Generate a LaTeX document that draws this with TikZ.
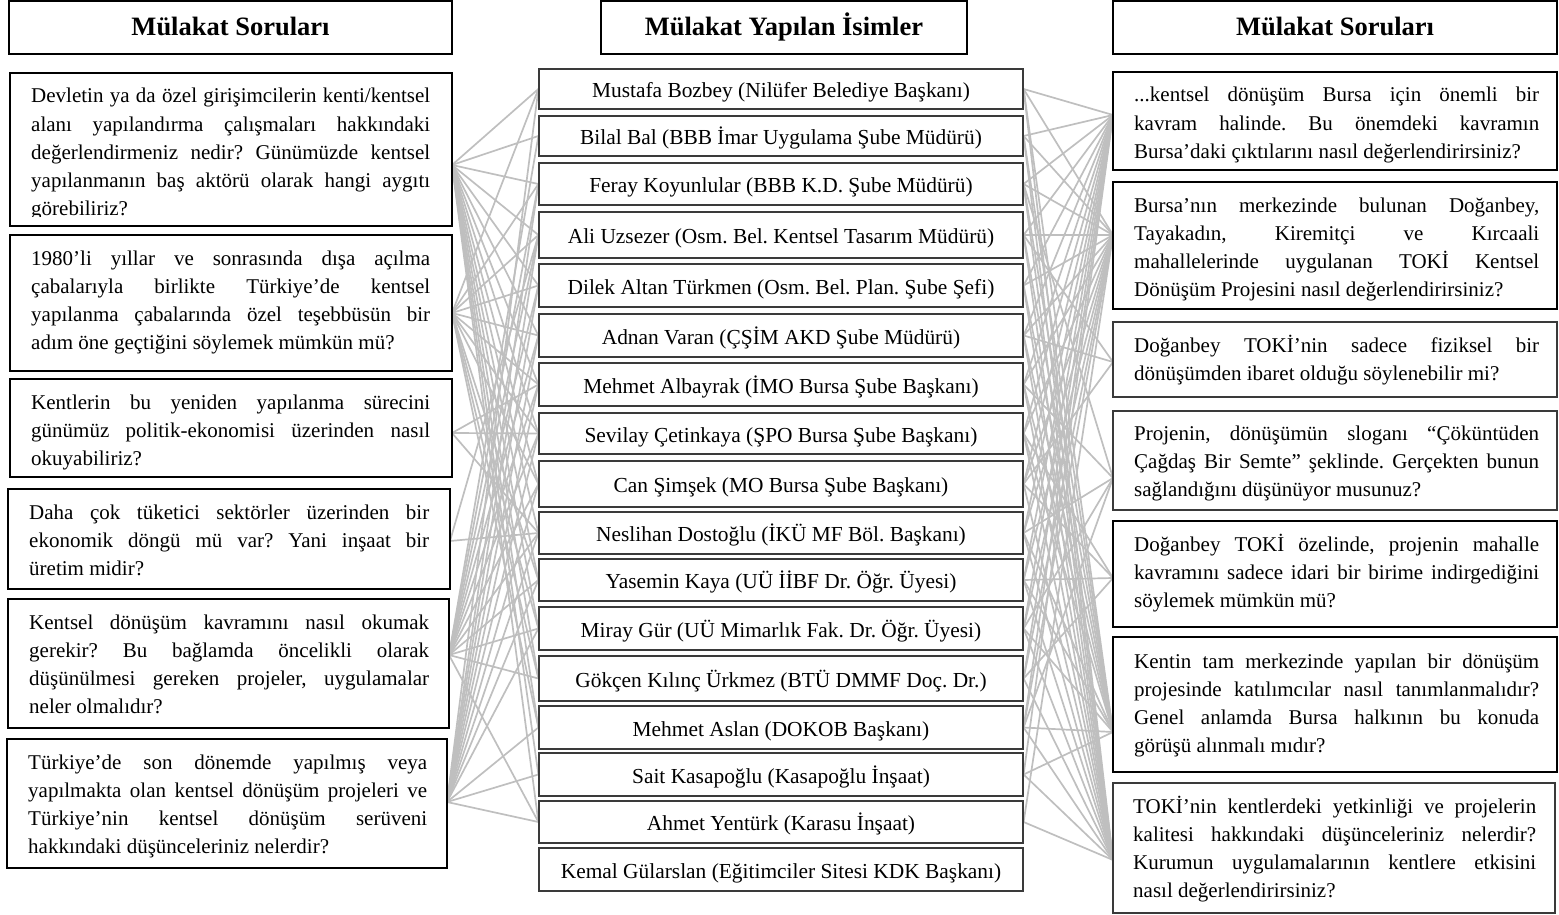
\documentclass[tikz,border=0pt]{standalone}
\usepackage{fontspec}
\setmainfont{Liberation Serif}
\usetikzlibrary{calc}
\pgfdeclarelayer{bg}
\pgfsetlayers{bg,main}
\definecolor{conncol}{HTML}{BFBFBF}
\definecolor{mframe}{HTML}{3A3A3A}
\frenchspacing
\newcommand{\qpar}[2]{\parbox[t]{#1pt}{\fontsize{21}{28.2}\selectfont\frenchspacing\tolerance=10000\hyphenpenalty=10000\pretolerance=-1 #2}}
\begin{document}
\begin{tikzpicture}[x=1pt,y=-1pt,
  hdrbox/.style={draw=black,line width=2pt,fill=white,inner sep=0pt,text height=20pt,text depth=3pt,font=\fontsize{26.5}{30}\selectfont\bfseries},
  qbox/.style={draw=black,line width=2pt,fill=white,inner sep=0pt},
  tbox/.style={draw=mframe,line width=1.3pt,fill=white,inner sep=0pt},
  mbox/.style={draw=mframe,line width=1.2pt,fill=white,inner sep=0pt,minimum width=484pt,text height=18pt,text depth=1pt,font=\fontsize{21.4}{26}\selectfont},
  qtext/.style={inner sep=0pt,anchor=base west},
  conn/.style={draw=conncol,line width=1.7pt}]
\useasboundingbox (0,0) rectangle (1559,915);

% headers
\node[hdrbox,minimum width=443pt,minimum height=53pt] (H1) at (230.5,27.5) {Mülakat Soruları};
\node[hdrbox,minimum width=366pt,minimum height=53pt] (H2) at (784,27.5) {Mülakat Yapılan İsimler};
\node[hdrbox,minimum width=444pt,minimum height=53pt] (H3) at (1335,27.5) {Mülakat Soruları};

% left question boxes
\node[qbox,minimum width=442pt,minimum height=153pt] (L1) at (231,149.5) {};
\node[qbox,minimum width=442pt,minimum height=136pt] (L2) at (231,303) {};
\node[qbox,minimum width=442pt,minimum height=98pt] (L3) at (231,428) {};
\node[qbox,minimum width=442pt,minimum height=100pt] (L4) at (229,539) {};
\node[qbox,minimum width=441pt,minimum height=129pt] (L5) at (228.5,663.5) {};
\node[qbox,minimum width=440pt,minimum height=129pt] (L6) at (227,803.5) {};

\begin{scope}
\clip (10,73) rectangle (452,216.5);
\node[qtext] (L1t) at (31,103) {\qpar{399}{Devletin ya da özel girişimcilerin kenti/kentsel\linebreak alanı yapılandırma çalışmaları hakkındaki\linebreak değerlendirmeniz nedir? Günümüzde kentsel\linebreak yapılanmanın baş aktörü olarak hangi aygıtı\linebreak görebiliriz?}};
\end{scope}
\node[qtext] (L2t) at (31,265) {\qpar{399}{1980’li yıllar ve sonrasında dışa açılma\linebreak çabalarıyla birlikte Türkiye’de kentsel\linebreak yapılanma çabalarında özel teşebbüsün bir\linebreak adım öne geçtiğini söylemek mümkün mü?}};
\node[qtext] (L3t) at (31,409) {\qpar{399}{Kentlerin bu yeniden yapılanma sürecini\linebreak günümüz politik-ekonomisi üzerinden nasıl\linebreak okuyabiliriz?}};
\node[qtext] (L4t) at (29,519) {\qpar{400}{Daha çok tüketici sektörler üzerinden bir\linebreak ekonomik döngü mü var? Yani inşaat bir\linebreak üretim midir?}};
\node[qtext] (L5t) at (29,629) {\qpar{400}{Kentsel dönüşüm kavramını nasıl okumak\linebreak gerekir? Bu bağlamda öncelikli olarak\linebreak düşünülmesi gereken projeler, uygulamalar\linebreak neler olmalıdır?}};
\node[qtext] (L6t) at (28,769) {\qpar{399}{Türkiye’de son dönemde yapılmış veya\linebreak yapılmakta olan kentsel dönüşüm projeleri ve\linebreak Türkiye’nin kentsel dönüşüm serüveni\linebreak hakkındaki düşünceleriniz nelerdir?}};

% middle name boxes
\node[mbox,minimum height=40pt] (M1) at (781,89) {Mustafa Bozbey (Nilüfer Belediye Başkanı)};
\node[mbox,minimum height=40pt] (M2) at (781,136) {Bilal Bal (BBB İmar Uygulama Şube Müdürü)};
\node[mbox,minimum height=42pt] (M3) at (781,184) {Feray Koyunlular (BBB K.D. Şube Müdürü)};
\node[mbox,minimum height=46pt] (M4) at (781,235) {Ali Uzsezer (Osm. Bel. Kentsel Tasarım Müdürü)};
\node[mbox,minimum height=43pt] (M5) at (781,285.5) {Dilek Altan Türkmen (Osm. Bel. Plan. Şube Şefi)};
\node[mbox,minimum height=43pt] (M6) at (781,335.5) {Adnan Varan (ÇŞİM AKD Şube Müdürü)};
\node[mbox,minimum height=43pt] (M7) at (781,384.5) {Mehmet Albayrak (İMO Bursa Şube Başkanı)};
\node[mbox,minimum height=41pt] (M8) at (781,433.5) {Sevilay Çetinkaya (ŞPO Bursa Şube Başkanı)};
\node[mbox,minimum height=46pt] (M9) at (781,484) {Can Şimşek (MO Bursa Şube Başkanı)};
\node[mbox,minimum height=42pt] (M10) at (781,533) {Neslihan Dostoğlu (İKÜ MF Böl. Başkanı)};
\node[mbox,minimum height=42pt] (M11) at (781,580) {Yasemin Kaya (UÜ İİBF Dr. Öğr. Üyesi)};
\node[mbox,minimum height=43pt] (M12) at (781,628.5) {Miray Gür (UÜ Mimarlık Fak. Dr. Öğr. Üyesi)};
\node[mbox,minimum height=45pt] (M13) at (781,678.5) {Gökçen Kılınç Ürkmez (BTÜ DMMF Doç. Dr.)};
\node[mbox,minimum height=43pt] (M14) at (781,727.5) {Mehmet Aslan (DOKOB Başkanı)};
\node[mbox,minimum height=43pt] (M15) at (781,774.5) {Sait Kasapoğlu (Kasapoğlu İnşaat)};
\node[mbox,minimum height=42pt] (M16) at (781,822) {Ahmet Yentürk (Karasu İnşaat)};
\node[mbox,minimum height=43pt] (M17) at (781,869.5) {Kemal Gülarslan (Eğitimciler Sitesi KDK Başkanı)};

% right question boxes
\node[qbox,minimum width=444pt,minimum height=98pt] (R1) at (1335,121) {};
\node[qbox,minimum width=444pt,minimum height=127pt] (R2) at (1335,245.5) {};
\node[tbox,minimum width=444pt,minimum height=75pt] (R3) at (1335,359.5) {};
\node[tbox,minimum width=444pt,minimum height=99pt] (R4) at (1335,460.5) {};
\node[qbox,minimum width=444pt,minimum height=106pt] (R5) at (1335,574) {};
\node[qbox,minimum width=444pt,minimum height=135pt] (R6) at (1335,704.5) {};
\node[tbox,minimum width=442pt,minimum height=130pt] (R7) at (1334,848) {};

\node[qtext] (R1t) at (1134,102) {\qpar{405}{...kentsel dönüşüm Bursa için önemli bir\linebreak kavram halinde. Bu önemdeki kavramın\linebreak Bursa’daki çıktılarını nasıl değerlendirirsiniz?}};
\node[qtext] (R2t) at (1134,212) {\qpar{405}{Bursa’nın merkezinde bulunan Doğanbey,\linebreak Tayakadın, Kiremitçi ve Kırcaali\linebreak mahallelerinde uygulanan TOKİ Kentsel\linebreak Dönüşüm Projesini nasıl değerlendirirsiniz?}};
\node[qtext] (R3t) at (1134,352) {\qpar{405}{Doğanbey TOKİ’nin sadece fiziksel bir\linebreak dönüşümden ibaret olduğu söylenebilir mi?}};
\node[qtext] (R4t) at (1134,440) {\qpar{405}{Projenin, dönüşümün sloganı “Çöküntüden\linebreak Çağdaş Bir Semte” şeklinde. Gerçekten bunun\linebreak sağlandığını düşünüyor musunuz?}};
\node[qtext] (R5t) at (1134,551) {\qpar{405}{Doğanbey TOKİ özelinde, projenin mahalle\linebreak kavramını sadece idari bir birime indirgediğini\linebreak söylemek mümkün mü?}};
\node[qtext] (R6t) at (1134,668) {\qpar{405}{Kentin tam merkezinde yapılan bir dönüşüm\linebreak projesinde katılımcılar nasıl tanımlanmalıdır?\linebreak Genel anlamda Bursa halkının bu konuda\linebreak görüşü alınmalı mıdır?}};
\node[qtext] (R7t) at (1133,813) {\qpar{403}{TOKİ’nin kentlerdeki yetkinliği ve projelerin\linebreak kalitesi hakkındaki düşünceleriniz nelerdir?\linebreak Kurumun uygulamalarının kentlere etkisini\linebreak nasıl değerlendirirsiniz?}};

% connector end points on the question boxes
\coordinate (LA1) at (452,165);
\coordinate (LA2) at (452,313);
\coordinate (LA3) at (452,433);
\coordinate (LA4) at (450,541);
\coordinate (LA5) at (449,655);
\coordinate (LA6) at (447,802);
\coordinate (RA1) at (1113,115);
\coordinate (RA2) at (1113,235);
\coordinate (RA3) at (1113,362);
\coordinate (RA4) at (1113,478);
\coordinate (RA5) at (1113,578);
\coordinate (RA6) at (1113,732);
\coordinate (RA7) at (1113,860);

\begin{pgfonlayer}{bg}
\foreach \m in {1,...,16} \draw[conn] (LA1) -- (M\m.west);
\foreach \m in {1,3,4,5,6,7,8,9,11,12,13,14} \draw[conn] (LA2) -- (M\m.west);
\foreach \m in {7,8,10} \draw[conn] (LA3) -- (M\m.west);
\foreach \m in {4,10} \draw[conn] (LA4) -- (M\m.west);
\foreach \m in {2,3,4,5,6,7,8,9,10,11,12,13,16} \draw[conn] (LA5) -- (M\m.west);
\foreach \m in {1,3,4,5,6,7,8,9,10,11,12,14,15,16} \draw[conn] (LA6) -- (M\m.west);
\foreach \m in {1,...,15} \draw[conn] (M\m.east) -- (RA1);
\foreach \m in {1,2,3,4,5,6,7,8,9,10,11,12,13,14,16} \draw[conn] (M\m.east) -- (RA2);
\foreach \m in {4,6,9} \draw[conn] (M\m.east) -- (RA3);
\foreach \m in {3,7,10,12,14} \draw[conn] (M\m.east) -- (RA4);
\foreach \m in {8,9,11,13} \draw[conn] (M\m.east) -- (RA5);
\foreach \m in {1,2,3,4,5,6,7,8,10,11,12,14,15} \draw[conn] (M\m.east) -- (RA6);
\foreach \m in {1,...,16} \draw[conn] (M\m.east) -- (RA7);
\end{pgfonlayer}
\end{tikzpicture}
\end{document}
